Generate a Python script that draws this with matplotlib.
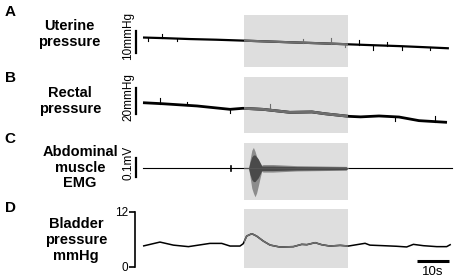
import numpy as np
import matplotlib
matplotlib.use("Agg")
import matplotlib.pyplot as plt

plt.rcParams['font.family'] = ['Liberation Sans', 'DejaVu Sans']

# ---------------- data ----------------
stim_start, stim_end = 31.5, 64.0          # s, shaded period
t_end = 96.5

# A: uterine pressure (mmHg, relative)
uter_t = [0, 7, 14.7, 23, 31.25, 39, 46.6, 55, 64.4, 72, 80, 88, 95.6]
uter_v = [13.4, 13.1, 12.7, 12.4, 12.0, 11.6, 11.2, 10.8, 10.3, 9.9, 9.5, 9.0, 8.5]
uter_spk_t = [1.6, 5.9, 10.6, 50.0, 58.8, 63.1, 67.5, 71.9, 76.3, 81.0, 89.7]
uter_spk_h = [-1.5, 1.8, -1.2, 1.8, 2.5, -1.3, 2.2, -2.2, 1.8, -1.8, -1.3]

# B: rectal pressure (mmHg, relative)
rect_t = [0, 6.25, 16.9, 27.2, 31.25, 37.5, 45.9, 52.8, 56.9, 64.4, 68, 73.75, 80, 86.25, 95]
rect_v = [23.3, 22.5, 20.8, 18.2, 19.0, 18.2, 15.9, 16.2, 14.8, 12.8, 12.4, 13.1, 12.3, 9.5, 8.2]
rect_spk_t = [5.3, 13.75, 27.2, 39.7, 78.75, 91.25]
rect_spk_h = [4.5, 2.5, -3.0, 4.5, -3.0, 4.0]

# C: abdominal muscle EMG envelope (mV)
emg_t    = [33.0, 33.4, 34.0, 34.5, 35.0, 35.5, 36.0, 36.6, 37.1, 37.5, 40.6, 48, 56, 63.5, 64.0]
emg_up   = [0.0, 0.04, 0.095, 0.11, 0.09, 0.063, 0.037, 0.026, 0.016, 0.02, 0.02, 0.014, 0.012, 0.01, 0.0]
emg_dn   = [0.0, 0.04, 0.105, 0.13, 0.15, 0.13, 0.095, 0.05, 0.016, 0.02, 0.02, 0.014, 0.012, 0.01, 0.0]
emg_core = [0.0, 0.03, 0.06, 0.07, 0.07, 0.06, 0.05, 0.03, 0.012, 0.012, 0.012, 0.009, 0.008, 0.007, 0.0]
emg_blip_t = 27.5

# D: bladder pressure (mmHg)
blad_t = [0, 5.3, 9.5, 14.2, 20.9, 24.6, 27.2, 30.3, 31.3, 32.4, 34.0, 35.5, 37.6, 39.7,
          42.8, 47.0, 49.6, 51.2, 53.8, 55.8, 58.4, 61.6, 64.2, 66.8, 69.4, 70.9, 75.1,
          79.3, 82.4, 84.5, 87.6, 91.8, 94.9, 96.2]
blad_v = [4.5, 5.37, 4.7, 4.37, 5.08, 5.08, 4.5, 4.5, 5.0, 6.68, 7.2, 6.68, 5.59, 4.72,
          4.28, 4.37, 4.87, 4.8, 5.24, 4.8, 4.5, 4.65, 4.5, 4.8, 5.1, 4.7, 4.58,
          4.45, 4.3, 4.87, 4.58, 4.37, 4.37, 4.87]
blad_ticks = [0, 12]
bar_time = 10  # s

# ---------------- layout ----------------
W, H = 454, 280
fig = plt.figure(figsize=(W / 100, H / 100), dpi=100)

def px_axes(x0, y0, x1, y1):
    return fig.add_axes([x0 / W, 1 - y1 / H, (x1 - x0) / W, (y1 - y0) / H])

XL = (-2.5, (454 - 143) / 3.2)
SHADE = '#dedede'
INCOL = '#6e6e6e'

def base_axes(ax, ylim):
    ax.set_xlim(*XL)
    ax.set_ylim(*ylim)
    ax.axis('off')
    return ax.axvspan(stim_start, stim_end, color=SHADE, lw=0, zorder=0)

def trace(ax, t, v, span, lw):
    ax.plot(t, v, color='black', lw=lw, zorder=2, solid_capstyle='butt')
    ln, = ax.plot(t, v, color=INCOL, lw=lw, zorder=3, solid_capstyle='butt')
    ln.set_clip_path(span)

def spikes(ax, t, v, st, sh, span, lw=0.8):
    b = np.interp(st, t, v)
    for x, y0, h in zip(st, b, sh):
        inside = stim_start <= x <= stim_end
        ax.plot([x, x], [y0, y0 + h], color=INCOL if inside else 'black', lw=lw, zorder=3)

def scalebar(ax, y0, y1, label, ylab):
    ax.plot([-2.2, -2.2], [y0, y1], color='black', lw=1.5, clip_on=False)

# A
axA = px_axes(135, 15, 454, 67)
sp = base_axes(axA, (0, 52 / 2.2))
trace(axA, uter_t, uter_v, sp, 1.6)
spikes(axA, uter_t, uter_v, uter_spk_t, uter_spk_h, sp)
axA.plot([-2.2, -2.2], [6.4, 16.4], color='black', lw=1.6, clip_on=False)

# B
axB = px_axes(135, 77, 454, 133)
sp = base_axes(axB, (0, 56 / 1.3))
trace(axB, rect_t, rect_v, sp, 2.0)
spikes(axB, rect_t, rect_v, rect_spk_t, rect_spk_h, sp)
axB.plot([-2.2, -2.2], [14.6, 34.6], color='black', lw=1.6, clip_on=False)

# C
axC = px_axes(135, 143, 454, 200)
sp = base_axes(axC, (-(200 - 168.3) / 190, (168.3 - 143) / 190))
axC.plot([0, t_end], [0, 0], color='black', lw=0.8, zorder=2)
axC.plot([emg_blip_t, emg_blip_t], [-0.012, 0.012], color='black', lw=1.2, zorder=2)
e_t = np.array(emg_t)
axC.fill_between(e_t, -np.array(emg_dn), np.array(emg_up), color='#8c8c8c', lw=0, zorder=3)
axC.fill_between(e_t, -np.array(emg_core), np.array(emg_core), color='#4a4a4a', lw=0, zorder=4)
axC.plot([stim_start, stim_end], [0, 0], color='#555555', lw=0.8, zorder=5)
axC.plot([-2.2, -2.2], [-0.045, 0.055], color='black', lw=1.6, clip_on=False)

# D
axD = px_axes(135, 209, 454, 268)
sp = axD.axvspan(stim_start, stim_end, color=SHADE, lw=0, zorder=0)
axD.set_xlim(*XL)
axD.set_ylim(-0.3, 12.6)
for s in ['top', 'right', 'bottom']:
    axD.spines[s].set_visible(False)
axD.spines['left'].set_bounds(0, 12)
axD.spines['left'].set_linewidth(1.2)
axD.set_xticks([])
axD.set_yticks(blad_ticks)
axD.set_yticklabels([str(v) for v in blad_ticks])
axD.tick_params(axis='y', direction='out', length=4, width=1.2, pad=1, labelsize=8.5)
axD.patch.set_visible(False)
trace(axD, blad_t, blad_v, sp, 1.1)
bx0 = (417 - 143) / 3.2
axD.plot([bx0, bx0 + bar_time], [1.3, 1.3], color='black', lw=2.2, clip_on=False, solid_capstyle='butt')
axD.text(bx0 + bar_time / 2, 0.1, f'{bar_time}s', ha='center', va='top', fontsize=9.5, clip_on=False)

# ---------------- text ----------------
def ftext(x, y, s, **kw):
    fig.text(x / W, 1 - y / H, s, **kw)

for lab, y in [('A', 12), ('B', 78), ('C', 139), ('D', 208)]:
    ftext(10, y, lab, ha='center', va='center', fontsize=11, fontweight='bold')

for s, x, y in [('Uterine\npressure', 69, 34), ('Rectal\npressure', 70, 101),
                ('Abdominal\nmuscle\nEMG', 80, 167.5), ('Bladder\npressure\nmmHg', 76, 240)]:
    ftext(x, y, s, ha='center', va='center', fontsize=10.5, fontweight='bold', linespacing=1.15)

for s, y in [('10mmHg', 36), ('20mmHg', 97), ('0.1mV', 163)]:
    ftext(128, y, s, ha='center', va='center', rotation=90, fontsize=8.5)

fig.savefig('out.png', dpi=100)
